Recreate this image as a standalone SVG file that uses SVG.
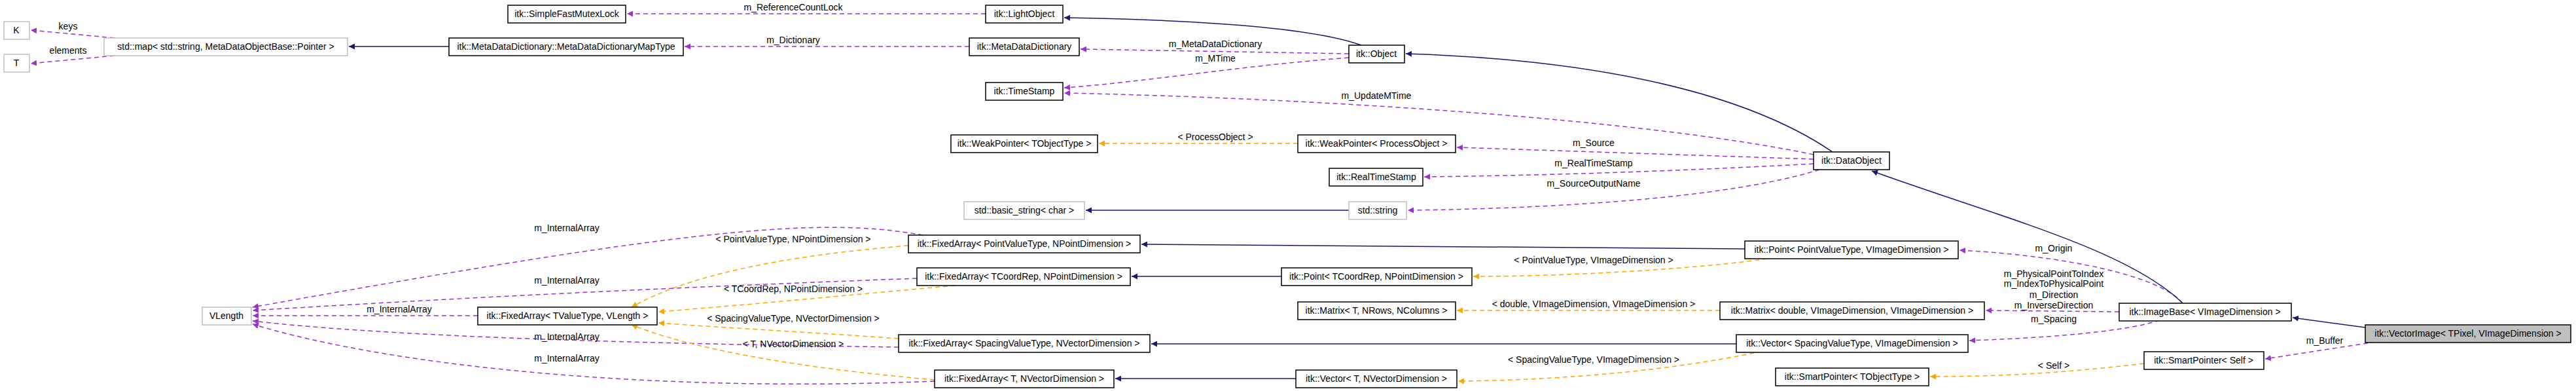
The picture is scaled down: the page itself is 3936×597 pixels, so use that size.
<svg xmlns="http://www.w3.org/2000/svg" width="3936" height="597" viewBox="0 0 3936 597">
<style>
text{font-family:"Liberation Sans",Arial,sans-serif;font-size:14px;fill:#000}
.n rect{fill:#fff;stroke:#000;stroke-width:1.5}
.g rect{stroke:#bfbfbf}
.f rect{fill:#bfbfbf}
.n text{text-anchor:middle}
.l{text-anchor:middle}
.p{fill:none;stroke:#9a32cd;stroke-width:1.5;stroke-dasharray:7,5;marker-end:url(#mp)}
.o{fill:none;stroke:#ffa500;stroke-width:1.5;stroke-dasharray:7,5;marker-end:url(#mo)}
.b{fill:none;stroke:#191970;stroke-width:1.5;marker-end:url(#mb)}
</style>
<defs>
<marker id="mp" viewBox="0 0 10 10" refX="10" refY="5" markerWidth="9" markerHeight="9" orient="auto" markerUnits="userSpaceOnUse"><path d="M0,0L10,5L0,10z" fill="#9a32cd"/></marker>
<marker id="mo" viewBox="0 0 10 10" refX="10" refY="5" markerWidth="9" markerHeight="9" orient="auto" markerUnits="userSpaceOnUse"><path d="M0,0L10,5L0,10z" fill="#ffa500"/></marker>
<marker id="mb" viewBox="0 0 10 10" refX="10" refY="5" markerWidth="9" markerHeight="9" orient="auto" markerUnits="userSpaceOnUse"><path d="M0,0L10,5L0,10z" fill="#191970"/></marker>
</defs>
<g id="edges">
<path class="p" d="M1506,21L958,21"/><text class="l" x="1212" y="16">m_ReferenceCountLock</text>
<path class="b" d="M2080,69C2000,40 1800,30 1626,27"/>
<path class="p" d="M175,58L47,46"/><text class="l" x="104" y="45">keys</text>
<path class="p" d="M175,85L47,97"/><text class="l" x="104" y="82">elements</text>
<path class="b" d="M686,71L533,71"/>
<path class="p" d="M1481,71L1046,71"/><text class="l" x="1212" y="66">m_Dictionary</text>
<path class="p" d="M2061,82L1651,75"/><text class="l" x="1857" y="72">m_MetaDataDictionary</text>
<path class="p" d="M2061,88C1900,100 1750,125 1626,134"/><text class="l" x="1857" y="94">m_MTime</text>
<path class="b" d="M2800,232C2650,130 2400,90 2148,82"/>
<path class="p" d="M2771,236C2500,180 2000,150 1626,142"/><text class="l" x="2103" y="151">m_UpdateMTime</text>
<path class="o" d="M1983,219L1679,219"/><text class="l" x="1857" y="214">&lt; ProcessObject &gt;</text>
<path class="p" d="M2771,243L2226,225"/><text class="l" x="2435" y="223">m_Source</text>
<path class="p" d="M2771,250C2550,262 2350,268 2176,270"/><text class="l" x="2435" y="254">m_RealTimeStamp</text>
<path class="p" d="M2780,259C2650,300 2400,318 2151,321"/><text class="l" x="2435" y="285">m_SourceOutputName</text>
<path class="b" d="M2061,321L1659,321"/>
<path class="b" d="M2666,380L1744,373"/>
<path class="p" d="M3335,463C3300,420 3150,390 2994,382"/><text class="l" x="3138" y="384">m_Origin</text>
<path class="b" d="M1958,422L1729,422"/>
<path class="o" d="M2700,395C2600,410 2400,422 2251,422"/><text class="l" x="2435" y="402">&lt; PointValueType, VImageDimension &gt;</text>
<path class="p" d="M1410,359C1250,330 1050,350 386,469"/><text class="l" x="866" y="353">m_InternalArray</text>
<path class="o" d="M1388,375C1200,390 1050,420 965,469"/><text class="l" x="1212" y="370">&lt; PointValueType, NPointDimension &gt;</text>
<path class="p" d="M1401,425C1000,440 700,455 386,474"/><text class="l" x="866" y="433">m_InternalArray</text>
<path class="o" d="M1460,436C1300,450 1150,465 1006,476"/><text class="l" x="1212" y="446">&lt; TCoordRep, NPointDimension &gt;</text>
<path class="p" d="M730,482L386,482"/><text class="l" x="610" y="477">m_InternalArray</text>
<path class="o" d="M1373,517C1250,508 1100,500 1006,493"/><text class="l" x="1212" y="491">&lt; SpacingValueType, NVectorDimension &gt;</text>
<path class="p" d="M1373,530C1000,525 600,515 386,490"/><text class="l" x="866" y="519">m_InternalArray</text>
<path class="o" d="M1428,580C1200,560 1050,530 965,496"/><text class="l" x="1212" y="530">&lt; T, NVectorDimension &gt;</text>
<path class="p" d="M1428,582C1000,600 600,560 386,495"/><text class="l" x="866" y="552">m_InternalArray</text>
<path class="o" d="M2628,474L2226,474"/><text class="l" x="2435" y="469">&lt; double, VImageDimension, VImageDimension &gt;</text>
<path class="p" d="M3238,476L3034,474"/>
<text class="l" x="3138" y="423">m_PhysicalPointToIndex</text><text class="l" x="3138" y="438">m_IndexToPhysicalPoint</text><text class="l" x="3138" y="455">m_Direction</text><text class="l" x="3138" y="471">m_InverseDirection</text>
<path class="p" d="M3300,489C3250,505 3150,515 3009,520"/><text class="l" x="3138" y="492">m_Spacing</text>
<path class="b" d="M2653,525L1759,525"/>
<path class="o" d="M2680,539C2550,565 2400,580 2228,582"/><text class="l" x="2435" y="554">&lt; SpacingValueType, VImageDimension &gt;</text>
<path class="b" d="M1980,578L1704,578"/>
<path class="b" d="M3614,500L3503,485"/>
<path class="p" d="M3630,522L3461,548"/><text class="l" x="3552" y="525">m_Buffer</text>
<path class="o" d="M3276,555C3150,570 3050,575 2949,575"/><text class="l" x="3138" y="563">&lt; Self &gt;</text>
<path class="b" d="M3335,463C3250,380 3050,330 2860,261"/>
</g>
<g id="n1" class="n"><rect x="776" y="8" width="180" height="27"/><text x="866" y="26">itk::SimpleFastMutexLock</text></g>
<g id="n2" class="n"><rect x="1506" y="8" width="118" height="27"/><text x="1565" y="26">itk::LightObject</text></g>
<g id="n3" class="n g"><rect x="6" y="33" width="39" height="27"/><text x="25" y="51">K</text></g>
<g id="n4" class="n g"><rect x="6" y="83" width="39" height="27"/><text x="25" y="101">T</text></g>
<g id="n5" class="n g"><rect x="159" y="58" width="372" height="27"/><text x="345" y="76">std::map&lt; std::string, MetaDataObjectBase::Pointer &gt;</text></g>
<g id="n6" class="n"><rect x="686" y="58" width="358" height="27"/><text x="865" y="76">itk::MetaDataDictionary::MetaDataDictionaryMapType</text></g>
<g id="n7" class="n"><rect x="1481" y="58" width="168" height="27"/><text x="1565" y="76">itk::MetaDataDictionary</text></g>
<g id="n8" class="n"><rect x="2061" y="69" width="85" height="27"/><text x="2103" y="87">itk::Object</text></g>
<g id="n9" class="n"><rect x="1506" y="126" width="118" height="27"/><text x="1565" y="144">itk::TimeStamp</text></g>
<g id="n10" class="n"><rect x="1453" y="206" width="224" height="27"/><text x="1565" y="224">itk::WeakPointer&lt; TObjectType &gt;</text></g>
<g id="n11" class="n"><rect x="1983" y="206" width="241" height="27"/><text x="2103" y="224">itk::WeakPointer&lt; ProcessObject &gt;</text></g>
<g id="n12" class="n"><rect x="2771" y="232" width="116" height="27"/><text x="2829" y="250">itk::DataObject</text></g>
<g id="n13" class="n"><rect x="2031" y="257" width="143" height="27"/><text x="2103" y="275">itk::RealTimeStamp</text></g>
<g id="n14" class="n g"><rect x="1473" y="308" width="184" height="27"/><text x="1565" y="326">std::basic_string&lt; char &gt;</text></g>
<g id="n15" class="n g"><rect x="2061" y="308" width="88" height="27"/><text x="2105" y="326">std::string</text></g>
<g id="n16" class="n"><rect x="1388" y="359" width="354" height="27"/><text x="1565" y="377">itk::FixedArray&lt; PointValueType, NPointDimension &gt;</text></g>
<g id="n17" class="n"><rect x="2666" y="368" width="326" height="27"/><text x="2829" y="386">itk::Point&lt; PointValueType, VImageDimension &gt;</text></g>
<g id="n18" class="n"><rect x="1401" y="409" width="326" height="27"/><text x="1564" y="427">itk::FixedArray&lt; TCoordRep, NPointDimension &gt;</text></g>
<g id="n19" class="n"><rect x="1958" y="409" width="291" height="27"/><text x="2103" y="427">itk::Point&lt; TCoordRep, NPointDimension &gt;</text></g>
<g id="n20" class="n g"><rect x="309" y="469" width="75" height="27"/><text x="346" y="487">VLength</text></g>
<g id="n21" class="n"><rect x="730" y="469" width="274" height="27"/><text x="867" y="487">itk::FixedArray&lt; TValueType, VLength &gt;</text></g>
<g id="n22" class="n"><rect x="1983" y="461" width="241" height="27"/><text x="2103" y="479">itk::Matrix&lt; T, NRows, NColumns &gt;</text></g>
<g id="n23" class="n"><rect x="2628" y="461" width="404" height="27"/><text x="2830" y="479">itk::Matrix&lt; double, VImageDimension, VImageDimension &gt;</text></g>
<g id="n24" class="n"><rect x="3238" y="463" width="263" height="27"/><text x="3369" y="481">itk::ImageBase&lt; VImageDimension &gt;</text></g>
<g id="n25" class="n f"><rect x="3614" y="496" width="314" height="27"/><text x="3771" y="514">itk::VectorImage&lt; TPixel, VImageDimension &gt;</text></g>
<g id="n26" class="n"><rect x="1373" y="511" width="384" height="27"/><text x="1565" y="529">itk::FixedArray&lt; SpacingValueType, NVectorDimension &gt;</text></g>
<g id="n27" class="n"><rect x="2653" y="511" width="354" height="27"/><text x="2830" y="529">itk::Vector&lt; SpacingValueType, VImageDimension &gt;</text></g>
<g id="n28" class="n"><rect x="3276" y="537" width="183" height="27"/><text x="3367" y="555">itk::SmartPointer&lt; Self &gt;</text></g>
<g id="n29" class="n"><rect x="1428" y="565" width="274" height="27"/><text x="1565" y="583">itk::FixedArray&lt; T, NVectorDimension &gt;</text></g>
<g id="n30" class="n"><rect x="1980" y="565" width="246" height="27"/><text x="2103" y="583">itk::Vector&lt; T, NVectorDimension &gt;</text></g>
<g id="n31" class="n"><rect x="2713" y="562" width="234" height="27"/><text x="2830" y="580">itk::SmartPointer&lt; TObjectType &gt;</text></g>
</svg>
